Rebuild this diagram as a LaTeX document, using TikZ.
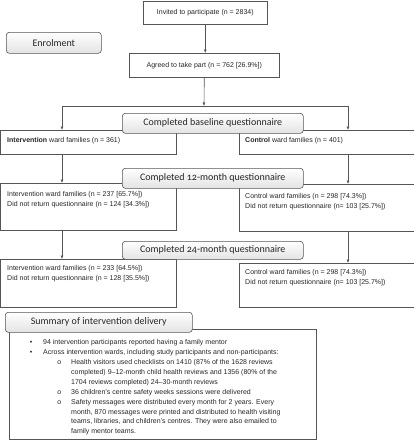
\documentclass[tikz,border=0pt]{standalone}
\usepackage{fontspec}
\setmainfont{Liberation Sans}
\newfontfamily\hdrfont[Numbers=OldStyle]{Carlito}
\usetikzlibrary{arrows.meta}
\definecolor{lncol}{RGB}{85,85,85}
\begin{document}
\begin{tikzpicture}[x=1pt,y=-1pt,
  box/.style={draw=lncol, line width=0.6pt, anchor=north west, inner sep=0pt, font=\fontsize{7}{9.9}\selectfont, text=black!85},
  hdr/.style={draw=lncol, line width=0.6pt, rounded corners=3pt, top color=white, bottom color=gray!22, anchor=north west, inner sep=0pt, font=\hdrfont\fontsize{10}{11}\selectfont, text=black!85},
  txt/.style={anchor=north west, align=left, inner sep=0pt, font=\fontsize{7}{9.9}\selectfont, text=black!85},
  arr/.style={draw=lncol, line width=0.6pt, -{Latex[length=3.5pt,width=3pt]}},
  conn/.style={draw=lncol, line width=0.6pt}]
\useasboundingbox (0,0) rectangle (414,440);
% boxes
\node[box, minimum width=124pt, minimum height=23.5pt] (inv) at (143,0.5) {Invited to participate (n = 2834)};
\node[box, minimum width=150pt, minimum height=24pt] (agr) at (129,53) {Agreed to take part (n = 762 [26.9\%])};
\node[box, minimum width=175.5pt, minimum height=24pt] (int) at (0.5,130) {};
\node[box, minimum width=174.5pt, minimum height=24pt] (ctl) at (239,130) {};
\node[box, minimum width=175.5pt, minimum height=47pt] (mla) at (0.5,183) {};
\node[box, minimum width=174.5pt, minimum height=47pt] (mra) at (239,184) {};
\node[box, minimum width=175.5pt, minimum height=48pt] (mlb) at (0.5,259) {};
\node[box, minimum width=174.5pt, minimum height=44pt] (mrb) at (239,263) {};
\node[box, minimum width=307pt, minimum height=110pt] (sum) at (9,329) {};
% texts
\node[txt] (intt) at (7,137.5) {\textbf{Intervention} ward families (n = 361)};
\node[txt] (ctlt) at (245,137.5) {\textbf{Control} ward families (n = 401)};
\node[txt] (mlat) at (7,191.5) {Intervention ward families (n = 237 [65.7\%])\\Did not return questionnaire (n = 124 [34.3\%])};
\node[txt] (mrat) at (245,193.5) {Control ward families (n = 298 [74.3\%])\\Did not return questionnaire (n= 103 [25.7\%])};
\node[txt] (mlbt) at (7,265.5) {Intervention ward families (n = 233 [64.5\%])\\Did not return questionnaire (n = 128 [35.5\%])};
\node[txt] (mrbt) at (245,269.5) {Control ward families (n = 298 [74.3\%])\\Did not return questionnaire (n= 103 [25.7\%])};
\node[txt] (sumt) at (25,339.5) {%
\makebox[12pt]{•}\hspace{6pt}94 intervention participants reported having a family mentor\\
\makebox[12pt]{•}\hspace{6pt}Across intervention wards, including study participants and non-participants:\\
\hspace{28pt}\makebox[12pt]{o}\hspace{6pt}Health visitors used checklists on 1410 (87\% of the 1628 reviews\\
\hspace{46pt}completed) 9–12-month child health reviews and 1356 (80\% of the\\
\hspace{46pt}1704 reviews completed) 24–30-month reviews\\
\hspace{28pt}\makebox[12pt]{o}\hspace{6pt}36 children’s centre safety weeks sessions were delivered\\
\hspace{28pt}\makebox[12pt]{o}\hspace{6pt}Safety messages were distributed every month for 2 years. Every\\
\hspace{46pt}month, 870 messages were printed and distributed to health visiting\\
\hspace{46pt}teams, libraries, and children’s centres. They were also emailed to\\
\hspace{46pt}family mentor teams.};
% connectors
\coordinate (split) at (204,106);
\coordinate (sl) at (62,106);
\coordinate (sr) at (348,106);
\draw[arr] (inv.south) -- (inv.south |- agr.north);
\draw[arr] (agr.south) -- (split);
\draw[conn] (sl) -- (sr);
\draw[arr] (sl) -- (sl |- int.north);
\draw[arr] (sr) -- (sr |- ctl.north);
\draw[arr] (sl |- int.south) -- (sl |- mla.north);
\draw[arr] (sr |- ctl.south) -- (sr |- mra.north);
\draw[arr] (sl |- mla.south) -- (sl |- mlb.north);
\draw[arr] (sr |- mra.south) -- (sr |- mrb.north);
% headers
\node[hdr, minimum width=95pt, minimum height=21pt] (enr) at (6,32) {Enrolment};
\node[hdr, minimum width=181pt, minimum height=20pt] (hb) at (122,113) {Completed baseline questionnaire};
\node[hdr, minimum width=181pt, minimum height=20pt] (h12) at (122,168) {Completed 12-month questionnaire};
\node[hdr, minimum width=181pt, minimum height=18pt] (h24) at (122,241) {Completed 24-month questionnaire};
\node[hdr, minimum width=187pt, minimum height=20pt] (hs) at (5,312) {Summary of intervention delivery};
\end{tikzpicture}
\end{document}
